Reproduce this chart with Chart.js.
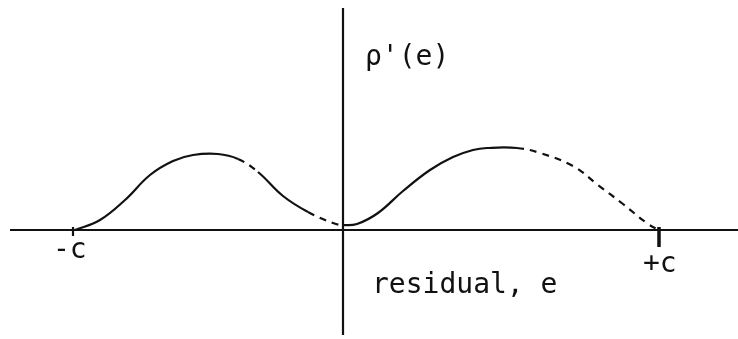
<!DOCTYPE html>
<html>
<head>
<meta charset="utf-8">
<script src="https://cdn.jsdelivr.net/npm/chart.js@4.4.1/dist/chart.umd.min.js"></script>
<style>
  html, body { margin: 0; padding: 0; background: #fff; }
  #wrap { width: 738px; height: 339px; }
</style>
</head>
<body>
<div id="wrap"><canvas id="mycanvas" width="738" height="339"></canvas></div>
<script>
// residual e (c is the cutoff) and the rho'(e) curve drawn over it
var residual = [-2.68, -2.43, -2.18, -1.93, -1.70, -1.50, -1.25, -1.05, -0.85, -0.60, -0.35, -0.10, 0.00,
                0.14, 0.35, 0.60, 0.87, 1.10, 1.30, 1.44, 1.74, 1.97, 2.30, 2.55, 2.80, 3.05, 3.16];
var rhoPrime = [0.00, 0.10, 0.30, 0.55, 0.69, 0.75, 0.76, 0.71, 0.58, 0.34, 0.18, 0.07, 0.05,
                0.06, 0.17, 0.39, 0.60, 0.73, 0.80, 0.82, 0.82, 0.77, 0.64, 0.45, 0.26, 0.06, 0.00];
// broken (pen-skipped) stretches of the curve, as residual ranges
var dashedFrom = [-1.15, -0.43, 1.74];
var dashedTo   = [-0.93, 0.00, 3.20];

var tickValues = [-2.70, 3.16];
var tickLabels = ['-c', '+c'];
var xTitle = 'residual, e';
var yTitle = "\u03c1'(e)";

var ink = '#111';
var fontFamily = '"DejaVu Sans Mono", "Liberation Mono", monospace';

var points = [];
for (var i in residual) {
  points.push({x: residual[i], y: rhoPrime[i]});
}

function isDashed(x) {
  for (var k = 0; k < dashedFrom.length; k++) {
    if (x >= dashedFrom[k] && x < dashedTo[k]) return true;
  }
  return false;
}

// hand-drawn axes, cutoff ticks and labels
var sketchAxes = {
  id: 'sketchAxes',
  beforeDatasetsDraw: function(chart) {
    var c = chart.ctx;
    var xs = chart.scales.x, ys = chart.scales.y;
    var x0 = xs.getPixelForValue(0), y0 = ys.getPixelForValue(0);
    c.save();
    c.strokeStyle = ink;
    c.lineCap = 'butt';

    // horizontal axis
    c.lineWidth = 2.2;
    c.beginPath();
    c.moveTo(10, y0);
    c.lineTo(chart.width, y0);
    c.stroke();

    // vertical axis
    c.beginPath();
    c.moveTo(x0, 8);
    c.lineTo(x0, 335);
    c.stroke();

    // ticks at -c and +c
    for (var t = 0; t < tickValues.length; t++) {
      var tx = xs.getPixelForValue(tickValues[t]);
      c.lineWidth = t === 0 ? 2.2 : 3.5;
      c.beginPath();
      c.moveTo(tx, y0 - 3);
      c.lineTo(tx, y0 + (t === 0 ? 6 : 17));
      c.stroke();
    }

    c.fillStyle = ink;
    c.font = '28px ' + fontFamily;
    c.textBaseline = 'alphabetic';
    c.textAlign = 'left';
    c.fillText(tickLabels[0], xs.getPixelForValue(tickValues[0]) - 20, y0 + 28);
    c.fillText(tickLabels[1], xs.getPixelForValue(tickValues[1]) - 16, y0 + 42);

    c.fillText(xTitle, x0 + 29, y0 + 63);
    c.fillText(yTitle, x0 + 22, 65);
    c.restore();
  }
};

var ctx = document.getElementById('mycanvas');

var chart = new Chart(ctx, {
  type: 'line',
  data: {
    datasets: [{
      data: points,
      borderColor: ink,
      borderWidth: 2.2,
      pointRadius: 0,
      fill: false,
      tension: 0.4,
      segment: {
        borderDash: function(s) { return isDashed(s.p0.parsed.x) ? [7, 6] : undefined; }
      }
    }]
  },
  options: {
    responsive: false,
    animation: false,
    layout: { padding: 0 },
    plugins: { legend: { display: false }, tooltip: { enabled: false } },
    scales: {
      x: { type: 'linear', min: -3.43, max: 3.95, display: false },
      y: { type: 'linear', min: -1.09, max: 2.30, display: false }
    }
  },
  plugins: [sketchAxes]
});
</script>
</body>
</html>
